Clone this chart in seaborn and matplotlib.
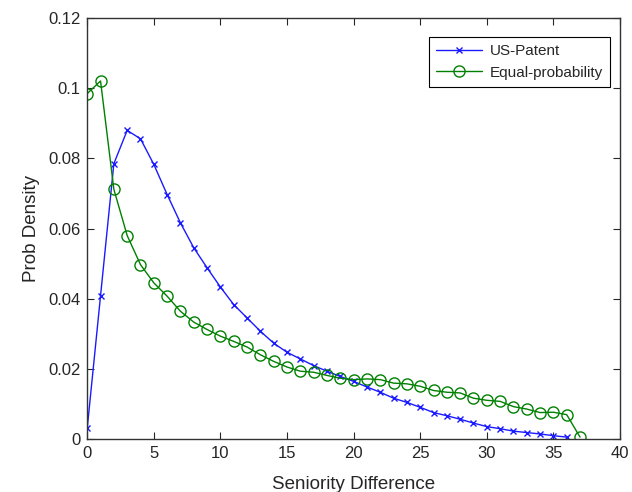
import matplotlib
matplotlib.use("Agg")
import matplotlib.pyplot as plt
import seaborn as sns
import pandas as pd

# Seniority difference values
x_patent = list(range(0, 37))
x_equal = list(range(0, 38))

us_patent = [0.0030, 0.0408, 0.0785, 0.0880, 0.0856, 0.0783, 0.0697, 0.0616, 0.0545,
             0.0488, 0.0433, 0.0383, 0.0345, 0.0307, 0.0273, 0.0247, 0.0228, 0.0209,
             0.0193, 0.0178, 0.0164, 0.0148, 0.0133, 0.0116, 0.0104, 0.0090, 0.0075,
             0.0066, 0.0056, 0.0045, 0.0035, 0.0029, 0.0022, 0.0018, 0.0014, 0.0009,
             0.0005]

equal_prob = [0.0985, 0.1021, 0.0712, 0.0580, 0.0497, 0.0445, 0.0407, 0.0364, 0.0333,
              0.0312, 0.0293, 0.0278, 0.0262, 0.0240, 0.0221, 0.0205, 0.0193, 0.0190,
              0.0181, 0.0173, 0.0169, 0.0171, 0.0169, 0.0159, 0.0157, 0.0150, 0.0138,
              0.0133, 0.0131, 0.0116, 0.0110, 0.0107, 0.0092, 0.0085, 0.0075, 0.0076,
              0.0069, 0.0005]

df_patent = pd.DataFrame({"x": x_patent, "y": us_patent})
df_equal = pd.DataFrame({"x": x_equal, "y": equal_prob})

sns.set_theme(style="white")
plt.rcParams['font.family'] = ['Liberation Sans', 'DejaVu Sans']

fig = plt.figure(figsize=(6.32, 4.92), dpi=100)
ax = fig.add_axes([0.138, 0.108, 0.843, 0.855])

sns.lineplot(data=df_patent, x="x", y="y", ax=ax, color="#1a1aff", marker="x",
             markersize=5, markeredgecolor="#1a1aff", markeredgewidth=1,
             linewidth=1, label="US-Patent")
sns.lineplot(data=df_equal, x="x", y="y", ax=ax, color="#008000", marker="o",
             markersize=8, markerfacecolor="none", markeredgecolor="#008000",
             markeredgewidth=1, linewidth=1, label="Equal-probability")

ax.set_xlim(0, 40)
ax.set_ylim(0, 0.12)
ax.set_xticks(range(0, 41, 5))
ax.set_yticks([0, 0.02, 0.04, 0.06, 0.08, 0.1, 0.12])
ax.set_yticklabels(["0", "0.02", "0.04", "0.06", "0.08", "0.1", "0.12"])

ax.set_xlabel("Seniority Difference", fontsize=13.5, labelpad=11)
ax.set_ylabel("Prob Density", fontsize=13.5, labelpad=6)

ax.tick_params(direction="in", length=5, width=0.8, labelsize=12, pad=5,
               top=True, right=True, bottom=True, left=True)
for sp in ax.spines.values():
    sp.set_color("#333333")
    sp.set_linewidth(1)

leg = ax.legend(loc="upper right", fontsize=11, frameon=True, fancybox=False,
                framealpha=1, edgecolor="black", borderpad=0.45,
                labelspacing=0.5, handlelength=3, handletextpad=0.5,
                bbox_to_anchor=(0.995, 0.973))
leg.get_frame().set_linewidth(0.8)

fig.savefig("out.png", dpi=100)
